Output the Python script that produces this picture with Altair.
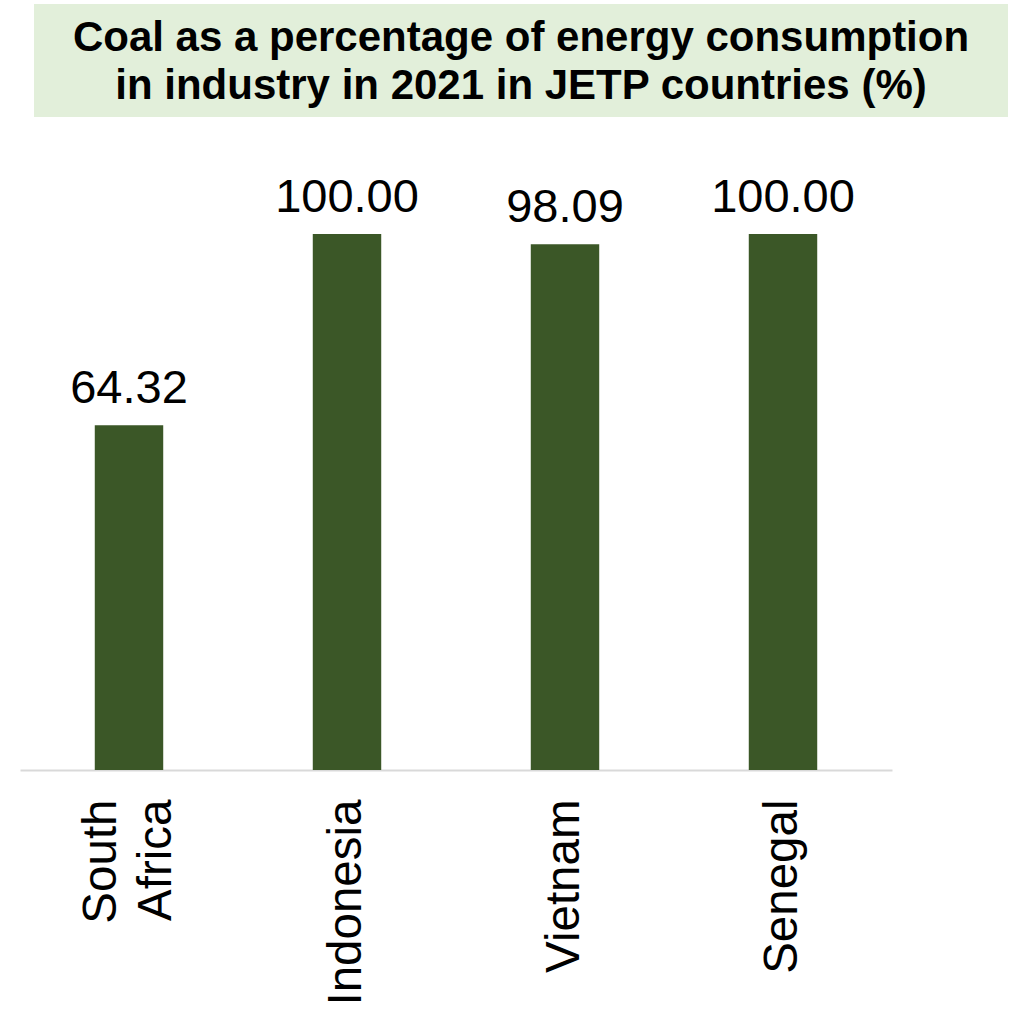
import altair as alt
import pandas as pd

countries = ["South Africa", "Indonesia", "Vietnam", "Senegal"]
values = [64.32, 100.00, 98.09, 100.00]
title_lines = ["Coal as a percentage of energy consumption",
               "in industry in 2021 in JETP countries (%)"]

df = pd.DataFrame({"country": countries, "value": values})

FONT = "Liberation Sans"
BAR = "#3b5727"

base = alt.Chart(df).encode(
    x=alt.X("country:N", sort=countries,
            scale=alt.Scale(paddingInner=0.686, paddingOuter=0.343),
            axis=alt.Axis(title=None, labelAngle=-90, labelFontSize=47.5, labelFont=FONT,
                          labelColor="#000000", labelPadding=29, ticks=False, labelLimit=0,
                          domainColor="#d9d9d9", domainWidth=2, labelLineHeight=55,
                          labelOffset={"condition": {"test": "datum.label == 'South Africa'", "value": -27},
                                       "value": 0},
                          labelExpr="datum.label == 'South Africa' ? ['South', 'Africa'] : datum.label")),
    y=alt.Y("value:Q", scale=alt.Scale(domain=[0, 100]), axis=None),
)

bars = base.mark_bar(color=BAR)
labels = base.mark_text(font=FONT, fontSize=47, baseline="alphabetic", dy=-22,
                        color="#000000").encode(text=alt.Text("value:Q", format=".2f"))

box = alt.Chart(alt.Data(values=[{}])).mark_rect(color="#e2efda").encode(
    x=alt.value(14), x2=alt.value(988), y=alt.value(-230), y2=alt.value(-117))
title = alt.Chart(alt.Data(values=[{}])).mark_text(
    font=FONT, fontSize=42, fontWeight="bold", lineBreak="\n", lineHeight=47.5,
    align="center", baseline="alphabetic", color="#000000").encode(
    x=alt.value(501), y=alt.value(-183), text=alt.value("\n".join(title_lines)))

chart = alt.layer(box, title, bars, labels).properties(
    width=872, height=536,
    padding={"left": 20, "top": 4, "right": 0, "bottom": 0},
).configure_view(stroke=None)

chart.save("out.html", embed_options={"renderer": "svg", "actions": False})
